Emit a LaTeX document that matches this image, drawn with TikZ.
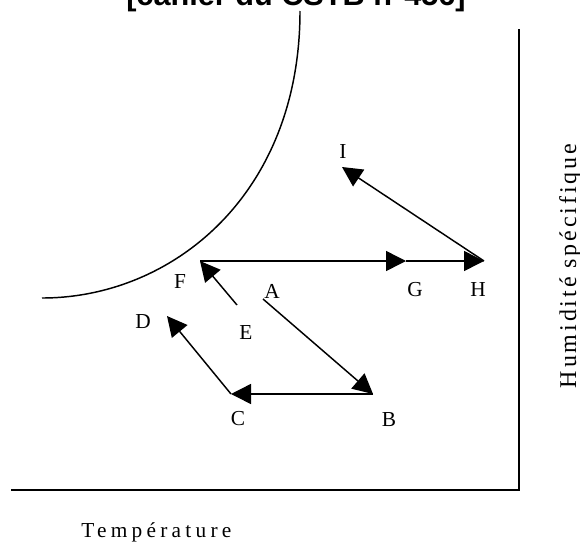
\documentclass[tikz,border=0pt]{standalone}
\usepackage{fontspec}
\setmainfont{Liberation Serif}
\newfontfamily\titlefont{Liberation Sans}
\newfontfamily\tempfont[LetterSpace=20]{Liberation Serif}
\newfontfamily\humfont[LetterSpace=12]{Liberation Serif}
\usetikzlibrary{arrows.meta}

\begin{document}
\begin{tikzpicture}[
  x=0.75pt, y=-0.75pt,
  lbl/.style={inner sep=0pt, font=\fontsize{16}{18}\selectfont},
  arr/.style={-{Triangle[length=15pt,width=15pt]}, line width=1.1pt},
  axis/.style={line width=1.3pt}
]
\useasboundingbox (0,0) rectangle (580,546);
\clip (0,0) rectangle (580,546);

% title, cut off by the page
\node[anchor=base, inner sep=0pt, font=\titlefont\bfseries\fontsize{23}{26}\selectfont] (title) at (296,5) {[cahier du CSTB n°456]};

% saturation curve
\draw[line width=1.1pt] (300,11) .. controls (300,195) and (172,298) .. (42,298);

% axes
\coordinate (O) at (519,490);
\coordinate (xend) at (11,490);
\coordinate (yend) at (519,29);
\draw[axis] (xend) -- (O) -- (yend);
\node[anchor=base west, inner sep=0pt, font=\tempfont\fontsize{16}{18}\selectfont] (temp) at (81,537) {Température};
\node[anchor=base, rotate=90, inner sep=0pt, font=\humfont\fontsize{18}{20}\selectfont] (hum) at (576,266) {Humidité spécifique};

% states
\coordinate (A) at (263,299);
\coordinate (B) at (373,394);
\coordinate (C) at (231,394);
\coordinate (D) at (167,316);
\coordinate (E) at (237,305);
\coordinate (F) at (200,261);
\coordinate (G) at (406,261);
\coordinate (H) at (484,261);
\coordinate (I) at (342,167);

\node[lbl] (lA) at (272,291) {A};
\node[lbl] (lB) at (389,420) {B};
\node[lbl] (lC) at (238,419) {C};
\node[lbl] (lD) at (143,322) {D};
\node[lbl] (lE) at (246,333) {E};
\node[lbl] (lF) at (180,282) {F};
\node[lbl] (lG) at (415,290) {G};
\node[lbl] (lH) at (478,290) {H};
\node[lbl] (lI) at (343,152) {I};

% transformations
\draw[arr] (A) -- (B);
\draw[arr] (B) -- (C);
\draw[arr] (C) -- (D);
\draw[arr] (E) -- (F);
\draw[arr] (F) -- (G);
\draw[arr] (G) -- (H);
\draw[arr] (H) -- (I);
\end{tikzpicture}
\end{document}
